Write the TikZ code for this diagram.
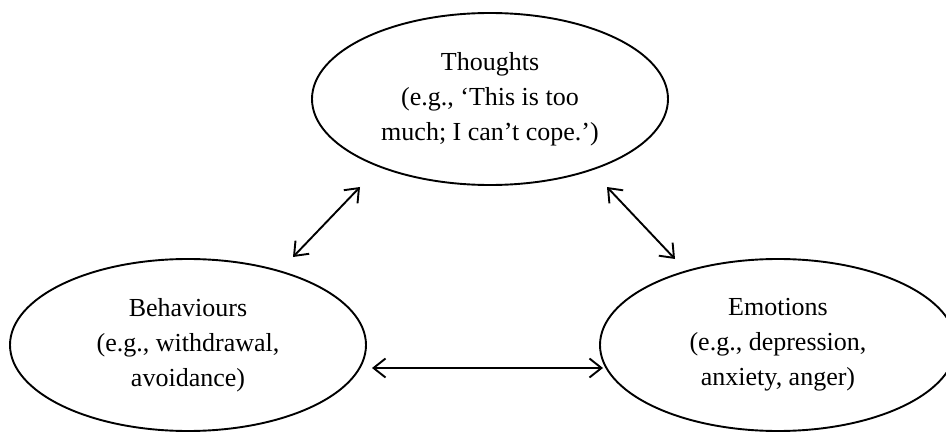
\documentclass[tikz,border=0pt]{standalone}
\usepackage{fontspec}
\setmainfont{Liberation Serif}
\usetikzlibrary{shapes.geometric,arrows.meta}

\begin{document}
\begin{tikzpicture}
  [x=1pt,y=1pt,
   feeling/.style={ellipse,draw,line width=1.9pt,minimum width=356pt,minimum height=172pt,
     inner sep=0pt,align=center,font=\fontsize{26}{35}\selectfont},
   link/.style={{Straight Barb[length=12pt,width=19pt]}-{Straight Barb[length=12pt,width=19pt]},line width=1.9pt}]
  \useasboundingbox (0,0) rectangle (946,432);

  \node[feeling] (thoughts) at (490,333) {Thoughts\\(e.g., ‘This is too\\much; I can’t cope.’)};
  \node[feeling] (behav) at (188,87) {Behaviours\\(e.g., withdrawal,\\avoidance)};
  \node[feeling] (emot) at (778,87) {Emotions\\(e.g., depression,\\anxiety, anger)};

  \coordinate (tb) at (360,245);
  \coordinate (bt) at (293,175);
  \coordinate (te) at (607,245);
  \coordinate (et) at (675,173);
  \coordinate (be) at (372,64);
  \coordinate (eb) at (603,64);

  \foreach \from/\to in {tb/bt,te/et,be/eb}
    \draw[link] (\from) -- (\to);

\end{tikzpicture}
\end{document}
